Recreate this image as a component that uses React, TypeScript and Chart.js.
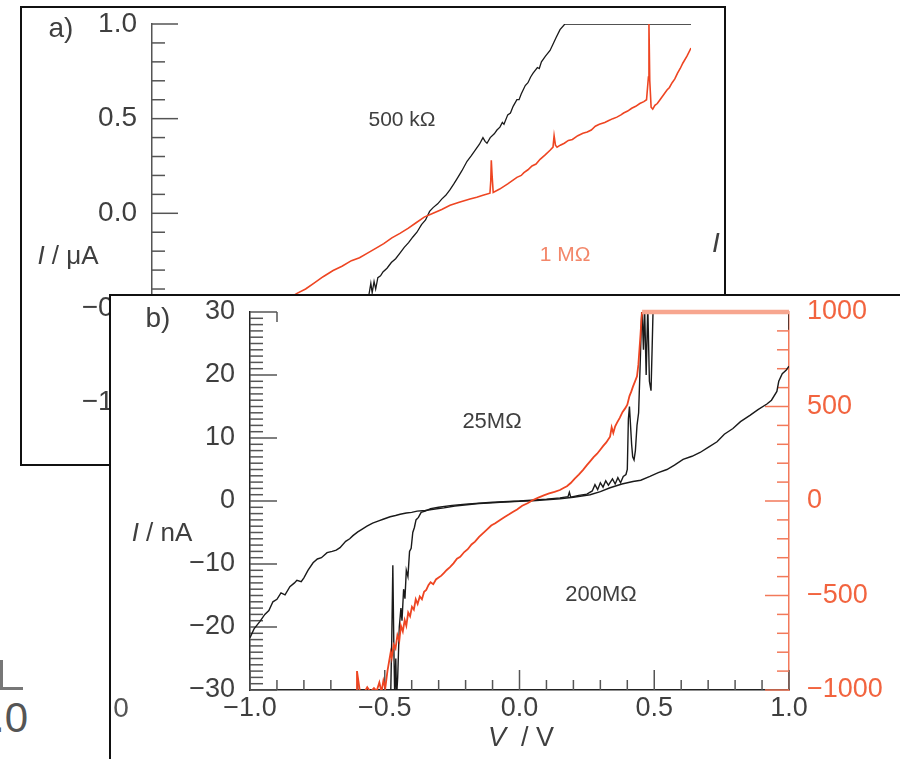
import { useEffect, useRef } from 'react';
import { Chart, registerables } from 'chart.js';

Chart.register(...registerables);

type Pt = [number, number];

const FONT = '"Liberation Sans", Arial, Helvetica, sans-serif';
const INK = '#3f3f3f';
const AXIS_GREY = '#555';
const ORANGE_LINE = '#ee4522';
const ORANGE_AXIS = '#f2795a';
const ORANGE_TEXT = '#f2643f';

// ---------- panel a: I / µA against V / V ----------
const A_Y_TICKS = [1.0, 0.5, 0.0, -0.5, -1.0];

const A_BLACK_500K: Pt[] = [
  [-0.42, -1.2], [-0.37, -1.02], [-0.33, -0.9], [-0.29, -0.76], [-0.255, -0.64],
  [-0.225, -0.54], [-0.205, -0.47], [-0.195, -0.43], [-0.188, -0.37], [-0.183, -0.42],
  [-0.176, -0.36], [-0.17, -0.4], [-0.162, -0.34], [-0.152, -0.33], [-0.143, -0.31],
  [-0.128, -0.29], [-0.112, -0.26], [-0.096, -0.24], [-0.08, -0.21], [-0.064, -0.18],
  [-0.048, -0.155], [-0.032, -0.125], [-0.017, -0.1], [0.0, -0.06], [0.015, -0.035],
  [0.03, 0.01], [0.043, 0.03], [0.06, 0.05], [0.075, 0.075], [0.09, 0.095],
  [0.106, 0.125], [0.12, 0.155], [0.135, 0.19], [0.15, 0.225], [0.169, 0.275],
  [0.185, 0.305], [0.2, 0.335], [0.215, 0.365], [0.228, 0.4], [0.236, 0.38],
  [0.243, 0.37], [0.255, 0.4], [0.27, 0.42], [0.28, 0.44], [0.291, 0.455],
  [0.3, 0.48], [0.306, 0.47], [0.32, 0.52], [0.33, 0.53], [0.34, 0.565],
  [0.354, 0.6], [0.362, 0.6], [0.37, 0.63], [0.385, 0.675], [0.395, 0.69],
  [0.405, 0.72], [0.414, 0.74], [0.43, 0.77], [0.437, 0.765], [0.445, 0.8],
  [0.46, 0.83], [0.477, 0.86], [0.49, 0.9], [0.5, 0.93], [0.514, 0.97],
  [0.532, 1.0], [1.0, 1.0],
];

const A_ORANGE_1M: Pt[] = [
  [-0.9, -0.8], [-0.7, -0.62], [-0.55, -0.5], [-0.462, -0.423], [-0.43, -0.4],
  [-0.4, -0.37], [-0.365, -0.335], [-0.328, -0.302], [-0.295, -0.28], [-0.26, -0.25],
  [-0.23, -0.235], [-0.202, -0.212], [-0.17, -0.185], [-0.14, -0.16], [-0.11, -0.13],
  [-0.08, -0.106], [-0.05, -0.08], [-0.02, -0.05], [0.01, -0.02], [0.043, 0.0],
  [0.075, 0.02], [0.106, 0.042], [0.14, 0.058], [0.18, 0.075], [0.205, 0.085],
  [0.228, 0.095], [0.254, 0.106], [0.257, 0.17], [0.259, 0.28], [0.262, 0.2],
  [0.266, 0.11], [0.29, 0.128], [0.32, 0.155], [0.354, 0.19], [0.37, 0.2],
  [0.38, 0.215], [0.395, 0.23], [0.41, 0.25], [0.425, 0.26], [0.44, 0.285],
  [0.46, 0.31], [0.477, 0.333], [0.488, 0.35], [0.492, 0.41], [0.497, 0.36],
  [0.503, 0.349], [0.515, 0.36], [0.53, 0.37], [0.545, 0.385], [0.56, 0.39],
  [0.58, 0.41], [0.599, 0.423], [0.615, 0.43], [0.63, 0.44], [0.645, 0.46],
  [0.66, 0.47], [0.68, 0.48], [0.695, 0.49], [0.71, 0.5], [0.725, 0.508],
  [0.74, 0.52], [0.75, 0.53], [0.765, 0.54], [0.78, 0.555], [0.795, 0.565],
  [0.81, 0.58], [0.825, 0.59], [0.835, 0.6], [0.842, 0.72], [0.844, 1.0],
  [0.847, 0.7], [0.852, 0.56], [0.858, 0.55], [0.866, 0.57], [0.875, 0.58],
  [0.885, 0.6], [0.895, 0.62], [0.911, 0.651], [0.92, 0.665], [0.93, 0.69],
  [0.94, 0.71], [0.95, 0.74], [0.96, 0.765], [0.97, 0.794], [0.985, 0.83], [1.0, 0.873],
];

// ---------- panel b: I / nA (left, black) and I / pA (right, orange) ----------
const B_X_TICKS = [-1.0, -0.5, 0.0, 0.5, 1.0];
const B_LEFT_TICKS = [-30, -20, -10, 0, 10, 20, 30];
const B_RIGHT_TICKS = [-1000, -500, 0, 500, 1000];

const B_BLACK_25M: Pt[] = [
  [-1.0, -21.7], [-0.985, -20.3], [-0.963, -19.1], [-0.945, -18.0], [-0.93, -17.4],
  [-0.915, -16.0], [-0.9, -15.6], [-0.885, -14.6], [-0.87, -14.9], [-0.852, -13.6],
  [-0.835, -13.0], [-0.826, -12.6], [-0.81, -12.8], [-0.8, -12.2], [-0.785, -11.0],
  [-0.766, -9.8], [-0.75, -9.2], [-0.735, -9.0], [-0.714, -8.2], [-0.695, -8.0],
  [-0.68, -7.8], [-0.666, -7.4], [-0.645, -6.4], [-0.63, -6.0], [-0.618, -5.5],
  [-0.6, -4.9], [-0.585, -4.5], [-0.566, -4.0], [-0.545, -3.5], [-0.525, -3.2],
  [-0.506, -2.9], [-0.48, -2.5], [-0.46, -2.3], [-0.443, -2.1], [-0.42, -1.9],
  [-0.4, -1.8], [-0.38, -1.6], [-0.35, -1.5], [-0.32, -1.3], [-0.28, -1.1],
  [-0.24, -0.8], [-0.195, -0.6], [-0.15, -0.4], [-0.1, -0.3], [-0.072, -0.2],
  [0.0, -0.05], [0.05, 0.05], [0.1, 0.2], [0.15, 0.35], [0.2, 0.6],
  [0.262, 1.0], [0.3, 1.5], [0.336, 2.1], [0.38, 2.7], [0.421, 3.1],
  [0.45, 3.3], [0.484, 3.9], [0.515, 4.5], [0.547, 5.0], [0.575, 5.7],
  [0.607, 6.6], [0.64, 7.1], [0.67, 7.7], [0.7, 8.5], [0.733, 9.4],
  [0.76, 10.6], [0.792, 11.5], [0.82, 12.6], [0.855, 13.6], [0.885, 14.5],
  [0.918, 15.4], [0.935, 16.0], [0.955, 17.4], [0.962, 19.0], [0.975, 20.2],
  [0.99, 20.8], [1.0, 21.4],
];

const B_BLACK_200M: Pt[] = [
  [-0.478, -31], [-0.474, -22], [-0.47, -10.2], [-0.466, -24], [-0.463, -31],
  [-0.459, -25], [-0.456, -31], [-0.452, -28], [-0.446, -20], [-0.44, -17],
  [-0.436, -19], [-0.43, -14], [-0.425, -15.5], [-0.42, -11], [-0.414, -12],
  [-0.408, -8], [-0.402, -7.5], [-0.396, -5], [-0.39, -4.2], [-0.384, -3.0],
  [-0.375, -2.6], [-0.365, -1.8], [-0.35, -1.6], [-0.33, -1.2], [-0.3, -1.0],
  [-0.25, -0.7], [-0.2, -0.5], [-0.1, -0.2], [0.0, 0.0], [0.1, 0.3],
  [0.15, 0.5], [0.18, 0.7], [0.185, 1.4], [0.19, 0.6], [0.22, 0.9],
  [0.25, 1.1], [0.27, 1.6], [0.28, 2.6], [0.29, 1.8], [0.3, 2.9],
  [0.31, 2.2], [0.32, 3.2], [0.33, 2.5], [0.345, 3.5], [0.355, 2.7],
  [0.365, 3.7], [0.375, 2.9], [0.385, 3.9], [0.395, 4.2], [0.4, 5.0],
  [0.404, 13], [0.408, 15], [0.412, 12], [0.416, 9], [0.42, 7],
  [0.425, 6.5], [0.43, 8], [0.436, 12], [0.442, 14], [0.448, 22],
  [0.454, 31], [0.46, 24], [0.464, 31], [0.47, 20], [0.476, 31],
  [0.482, 19], [0.488, 17.5], [0.492, 24], [0.496, 31], [0.5, 31],
];

const B_BLACK_EDGE: Pt[] = [[1.0, 30], [1.0, 27.2]];

const B_ORANGE_200M: Pt[] = [
  [-0.606, -1010], [-0.603, -900], [-0.598, -950], [-0.592, -1010], [-0.575, -1010],
  [-0.565, -985], [-0.553, -1010], [-0.54, -990], [-0.53, -1005], [-0.52, -960],
  [-0.512, -1010], [-0.505, -950], [-0.498, -990], [-0.49, -900], [-0.484, -850],
  [-0.478, -800], [-0.474, -830], [-0.467, -760], [-0.46, -780], [-0.453, -710],
  [-0.446, -740], [-0.44, -660], [-0.433, -690], [-0.426, -630], [-0.42, -660],
  [-0.413, -590], [-0.406, -610], [-0.399, -560], [-0.392, -575], [-0.385, -520],
  [-0.378, -545], [-0.37, -505], [-0.362, -520], [-0.354, -480], [-0.346, -470],
  [-0.338, -445], [-0.33, -430], [-0.32, -440], [-0.31, -415], [-0.3, -405],
  [-0.29, -395], [-0.28, -380], [-0.27, -365], [-0.258, -350], [-0.245, -330],
  [-0.232, -305], [-0.22, -295], [-0.205, -270], [-0.192, -255], [-0.178, -230],
  [-0.165, -215], [-0.15, -190], [-0.135, -170], [-0.12, -150], [-0.105, -130],
  [-0.09, -118], [-0.072, -100], [-0.055, -85], [-0.04, -72], [-0.025, -58],
  [-0.009, -45], [0.01, -25], [0.03, -12], [0.05, 5], [0.07, 18],
  [0.09, 30], [0.11, 40], [0.13, 48], [0.15, 58], [0.165, 70],
  [0.176, 78], [0.19, 95], [0.205, 118], [0.22, 140], [0.236, 165],
  [0.25, 190], [0.262, 210], [0.275, 232], [0.288, 250], [0.299, 270],
  [0.31, 290], [0.322, 310], [0.336, 340], [0.342, 390], [0.348, 360],
  [0.355, 395], [0.362, 415], [0.372, 440], [0.382, 470], [0.392, 490],
  [0.4, 510], [0.408, 555], [0.415, 580], [0.421, 605], [0.428, 630],
  [0.436, 660], [0.441, 720], [0.445, 800], [0.449, 880], [0.452, 950], [0.455, 1000],
];

const B_ORANGE_LIMIT: Pt[] = [[0.455, 1000], [1.0, 1000]];

// ---------- layout (page pixels) ----------
const A_BOX = { left: 20, top: 6, width: 706, height: 460 };
const B_BOX = { left: 109, top: 294, width: 791, height: 465 };
const BORDER = 2;

const A_PLOT = { left: 152, top: 24, right: 691, pxPerUnit: 189.3, yMin: -1.2, yMax: 1.0 };
const B_PLOT = { left: 250, top: 312, right: 789, bottom: 690 };

const minus = (s: string) => s.replace('-', '\u2212');
const fmt1 = (v: number) => minus(Number(v).toFixed(1));
const fmt0 = (v: number) => minus(String(Math.round(Number(v))));

type TickSet = {
  axis: string; major: number[]; min: number; max: number; step: number;
  majorLen: number; minorLen: number; color: string;
};

// Inward-pointing major/minor tick marks placed with the scales' own pixel mapping.
function innerTicks(sets: TickSet[], hook = false) {
  return {
    id: 'innerTicks',
    beforeDatasetsDraw(chart: Chart) {
      const ctx = chart.ctx;
      ctx.save();
      ctx.lineWidth = 1.5;
      for (const s of sets) {
        const sc: any = chart.scales[s.axis];
        ctx.strokeStyle = s.color;
        const n = Math.round((s.max - s.min) / s.step);
        for (let i = 0; i <= n; i++) {
          const v = s.min + i * s.step;
          const isMajor = s.major.some((m) => Math.abs(m - v) < s.step / 10);
          const len = isMajor ? s.majorLen : s.minorLen;
          const p = sc.getPixelForValue(v);
          ctx.beginPath();
          if (sc.position === 'left') { ctx.moveTo(sc.right, p); ctx.lineTo(sc.right + len, p); }
          else if (sc.position === 'right') { ctx.moveTo(sc.left, p); ctx.lineTo(sc.left - len, p); }
          else { ctx.moveTo(p, sc.top); ctx.lineTo(p, sc.top - len); }
          ctx.stroke();
        }
        if (hook && sc.position === 'left') {
          const top = sc.getPixelForValue(s.max);
          ctx.beginPath();
          ctx.moveTo(sc.right + s.majorLen, top);
          ctx.lineTo(sc.right + s.majorLen, top + 10);
          ctx.stroke();
        }
      }
      ctx.restore();
    },
  };
}

const toXY = (pts: Pt[]) => pts.map(([x, y]) => ({ x, y }));

function Label(props: { x: number; y: number; size: number; color?: string; children: any; style?: any }) {
  return (
    <div
      style={{
        position: 'absolute', left: props.x, top: props.y, transform: 'translate(-50%, -50%)',
        fontSize: props.size, color: props.color ?? INK, whiteSpace: 'nowrap', lineHeight: 1,
        fontFamily: FONT, ...(props.style || {}),
      }}
    >
      {props.children}
    </div>
  );
}

function PanelA() {
  const ref = useRef<HTMLCanvasElement>(null);
  const ox = A_BOX.left + BORDER;
  const oy = A_BOX.top + BORDER;
  const w = A_BOX.width - 2 * BORDER;
  const h = A_BOX.height - 2 * BORDER;

  useEffect(() => {
    const axisW = A_PLOT.left - ox;
    const top = A_PLOT.top - oy;
    const bottom = top + A_PLOT.pxPerUnit * (A_PLOT.yMax - A_PLOT.yMin);
    const chart = new Chart(ref.current!, {
      type: 'scatter',
      data: {
        datasets: [
          { data: toXY(A_ORANGE_1M), showLine: true, borderColor: ORANGE_LINE, borderWidth: 1.6, pointRadius: 0 },
          { data: toXY(A_BLACK_500K), showLine: true, borderColor: '#1a1a1a', borderWidth: 1.3, pointRadius: 0 },
        ],
      },
      options: {
        animation: false,
        responsive: false,
        events: [],
        layout: { padding: { left: 0, top, right: w - (A_PLOT.right - ox), bottom: h - bottom } },
        plugins: { legend: { display: false }, tooltip: { enabled: false } },
        scales: {
          x: { type: 'linear', min: -1, max: 1, display: false },
          y: {
            type: 'linear', position: 'left', min: A_PLOT.yMin, max: A_PLOT.yMax,
            afterBuildTicks: (s: any) => { s.ticks = A_Y_TICKS.map((v) => ({ value: v })); },
            afterFit: (s: any) => { s.width = axisW; s.paddingTop = 0; s.paddingBottom = 0; },
            grid: { display: false, drawTicks: false },
            border: { display: true, color: AXIS_GREY, width: 1.5 },
            ticks: { padding: 15, color: INK, font: { family: FONT, size: 28 }, autoSkip: false, callback: (v: any) => fmt1(v) },
          },
        },
      },
      plugins: [innerTicks([
        { axis: 'y', major: A_Y_TICKS, min: A_PLOT.yMin, max: A_PLOT.yMax, step: 0.1, majorLen: 26, minorLen: 13, color: AXIS_GREY },
      ])],
    });
    return () => chart.destroy();
  }, []);

  return (
    <div style={{
      position: 'absolute', left: A_BOX.left, top: A_BOX.top, width: A_BOX.width, height: A_BOX.height,
      boxSizing: 'border-box', border: `${BORDER}px solid #111`, background: '#fff',
    }}>
      <canvas ref={ref} width={w} height={h} style={{ position: 'absolute', left: 0, top: 0, width: w, height: h }} />
      <Label x={61 - ox} y={28 - oy} size={28}>a)</Label>
      <Label x={68 - ox} y={255 - oy} size={26}><i>I</i> / μA</Label>
      <Label x={402 - ox} y={118 - oy} size={21}>500 kΩ</Label>
      <Label x={565 - ox} y={253 - oy} size={21} color="#f3876a">1 MΩ</Label>
      <Label x={716 - ox} y={243 - oy} size={28}><i>I</i></Label>
    </div>
  );
}

function PanelB() {
  const ref = useRef<HTMLCanvasElement>(null);
  const ox = B_BOX.left + BORDER;
  const oy = B_BOX.top + BORDER;
  const w = B_BOX.width - BORDER;
  const h = B_BOX.height - BORDER;

  useEffect(() => {
    const leftW = B_PLOT.left - ox;
    const rightW = w - (B_PLOT.right - ox);
    const top = B_PLOT.top - oy;
    const bottomH = h - (B_PLOT.bottom - oy);
    const chart = new Chart(ref.current!, {
      type: 'scatter',
      data: {
        datasets: [
          { data: toXY(B_ORANGE_LIMIT), yAxisID: 'y2', showLine: true, borderColor: '#f7a68f', borderWidth: 4.5, pointRadius: 0, clip: 5 },
          { data: toXY(B_ORANGE_200M), yAxisID: 'y2', showLine: true, borderColor: ORANGE_LINE, borderWidth: 1.8, pointRadius: 0 },
          { data: toXY(B_BLACK_25M), yAxisID: 'y', showLine: true, borderColor: '#1a1a1a', borderWidth: 1.4, pointRadius: 0 },
          { data: toXY(B_BLACK_200M), yAxisID: 'y', showLine: true, borderColor: '#1a1a1a', borderWidth: 1.4, pointRadius: 0 },
          { data: toXY(B_BLACK_EDGE), yAxisID: 'y', showLine: true, borderColor: '#1a1a1a', borderWidth: 1.4, pointRadius: 0 },
        ],
      },
      options: {
        animation: false,
        responsive: false,
        events: [],
        layout: { padding: { left: 0, top, right: 0, bottom: 0 } },
        plugins: { legend: { display: false }, tooltip: { enabled: false } },
        scales: {
          x: {
            type: 'linear', position: 'bottom', min: -1, max: 1,
            afterBuildTicks: (s: any) => { s.ticks = B_X_TICKS.map((v) => ({ value: v })); },
            afterFit: (s: any) => { s.height = bottomH; s.paddingLeft = 0; s.paddingRight = 0; },
            grid: { display: false, drawTicks: false },
            border: { display: true, color: '#222', width: 1.5 },
            ticks: { padding: 2, color: INK, font: { family: FONT, size: 27 }, autoSkip: false, maxRotation: 0, callback: (v: any) => fmt1(v) },
          },
          y: {
            type: 'linear', position: 'left', min: -30, max: 30,
            afterBuildTicks: (s: any) => { s.ticks = B_LEFT_TICKS.map((v) => ({ value: v })); },
            afterFit: (s: any) => { s.width = leftW; s.paddingTop = 0; s.paddingBottom = 0; },
            grid: { display: false, drawTicks: false },
            border: { display: true, color: '#222', width: 1.5 },
            ticks: { padding: 15, color: INK, font: { family: FONT, size: 27 }, autoSkip: false, callback: (v: any) => fmt0(v) },
          },
          y2: {
            type: 'linear', position: 'right', min: -1000, max: 1000,
            afterBuildTicks: (s: any) => { s.ticks = B_RIGHT_TICKS.map((v) => ({ value: v })); },
            afterFit: (s: any) => { s.width = rightW; s.paddingTop = 0; s.paddingBottom = 0; },
            grid: { display: false, drawTicks: false },
            border: { display: true, color: ORANGE_AXIS, width: 1.5 },
            ticks: { padding: 18, color: ORANGE_TEXT, font: { family: FONT, size: 27 }, autoSkip: false, callback: (v: any) => fmt0(v) },
          },
        },
      },
      plugins: [innerTicks([
        { axis: 'y', major: B_LEFT_TICKS, min: -30, max: 30, step: 1, majorLen: 27, minorLen: 13, color: AXIS_GREY },
        { axis: 'x', major: B_X_TICKS, min: -1, max: 1, step: 0.1, majorLen: 20, minorLen: 10, color: AXIS_GREY },
        { axis: 'y2', major: B_RIGHT_TICKS, min: -1000, max: 1000, step: 100, majorLen: 24, minorLen: 12, color: ORANGE_AXIS },
      ], true)],
    });
    return () => chart.destroy();
  }, []);

  return (
    <div style={{
      position: 'absolute', left: B_BOX.left, top: B_BOX.top, width: B_BOX.width, height: B_BOX.height,
      boxSizing: 'border-box', borderLeft: `${BORDER}px solid #111`, borderTop: `${BORDER}px solid #111`, background: '#fff',
    }}>
      <canvas ref={ref} width={w} height={h} style={{ position: 'absolute', left: 0, top: 0, width: w, height: h }} />
      <Label x={158 - ox} y={318 - oy} size={28}>b)</Label>
      <Label x={162 - ox} y={532 - oy} size={26}><i>I</i> / nA</Label>
      <Label x={521 - ox} y={737 - oy} size={27}><i>V</i>&nbsp; / V</Label>
      <Label x={492 - ox} y={421 - oy} size={22}>25MΩ</Label>
      <Label x={601 - ox} y={594 - oy} size={22}>200MΩ</Label>
      <Label x={121 - ox} y={708 - oy} size={28} color="#555">0</Label>
    </div>
  );
}

export default function App() {
  return (
    <div style={{ position: 'absolute', left: 0, top: 0, width: 900, height: 759, overflow: 'hidden', background: '#fff', fontFamily: FONT }}>
      {/* edge of a neighbouring axis */}
      <div style={{ position: 'absolute', left: 0, top: 660, width: 2.5, height: 30, background: '#777' }} />
      <div style={{ position: 'absolute', left: 0, top: 687, width: 23, height: 3, background: '#777' }} />
      <div style={{ position: 'absolute', left: -38, top: 697, width: 66, textAlign: 'right', fontSize: 42, lineHeight: 1, color: '#555', fontFamily: FONT }}>1.0</div>
      <PanelA />
      <PanelB />
    </div>
  );
}
